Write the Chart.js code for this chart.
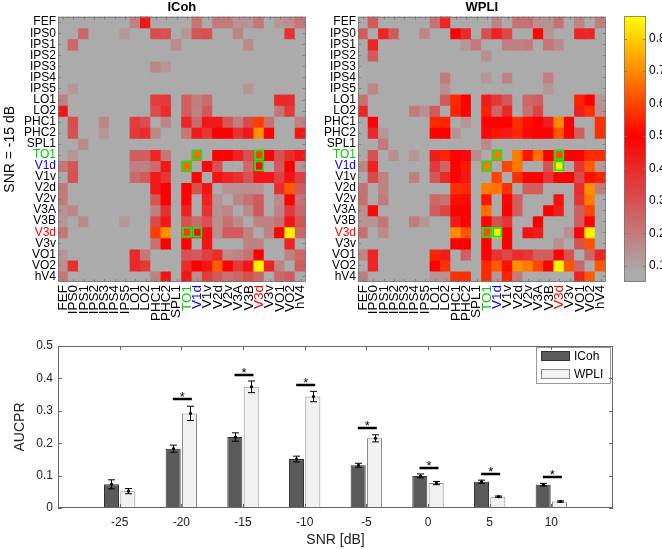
<!DOCTYPE html>
<html><head><meta charset="utf-8">
<script src="https://cdn.jsdelivr.net/npm/chart.js@4.4.1/dist/chart.umd.min.js"></script>
<style>
html,body{margin:0;padding:0;background:#fff;}
#wrap{position:relative;width:662px;height:549px;overflow:hidden;background:#fff;}
canvas{position:absolute;}
</style></head><body>
<div id="wrap">
<canvas id="icoh" width="320" height="330" style="left:0;top:0;width:320px;height:330px"></canvas>
<canvas id="wpli" width="320" height="330" style="left:300px;top:0;width:320px;height:330px"></canvas>
<canvas id="cbar" width="52" height="300" style="left:610px;top:0;width:52px;height:300px"></canvas>
<canvas id="bars" width="662" height="219" style="left:0;top:330px;width:662px;height:219px"></canvas>
</div>
<script>
const FONT = "'Liberation Sans', Arial, Helvetica, sans-serif";

// ---------- heatmap data ----------
const regions = ['FEF','IPS0','IPS1','IPS2','IPS3','IPS4','IPS5','LO1','LO2','PHC1','PHC2','SPL1','TO1','V1d','V1v','V2d','V2v','V3A','V3B','V3d','V3v','VO1','VO2','hV4'];
const regionLabelColors = { TO1: '#00cc00', V1d: '#0000ff', V3d: '#ff0000' };
const highlightPairs = [['TO1','V1d'],['TO1','V3d'],['V1d','TO1'],['V1d','V3d'],['V3d','TO1'],['V3d','V1d']];

const icohMatrix = [
[.07,.07,.07,.07,.07,.07, .07,.18,.45,.07,.07,.07, .07,.21,.07,.20,.20,.14, .13,.21,.07,.13,.15,.21],
[.07,.07,.25,.07,.07,.07, .13,.07,.07,.31,.30,.07, .13,.29,.30,.07,.07,.17, .07,.07,.07,.07,.38,.07],
[.07,.25,.07,.07,.07,.07, .07,.07,.07,.07,.07,.16, .07,.07,.07,.07,.07,.07, .16,.07,.07,.07,.07,.07],
[.07,.07,.07,.07,.07,.07, .07,.07,.07,.07,.07,.07, .07,.07,.07,.07,.07,.07, .07,.07,.07,.07,.07,.07],
[.07,.07,.07,.07,.07,.07, .07,.07,.07,.17,.13,.07, .07,.07,.07,.07,.07,.07, .07,.07,.07,.07,.07,.07],
[.07,.07,.07,.07,.07,.07, .07,.07,.07,.07,.07,.07, .07,.07,.07,.07,.07,.07, .07,.07,.07,.07,.07,.07],
[.07,.13,.07,.07,.07,.07, .07,.07,.07,.07,.07,.07, .07,.07,.07,.07,.07,.07, .13,.07,.07,.07,.07,.07],
[.18,.07,.07,.07,.07,.07, .07,.07,.07,.35,.36,.07, .27,.19,.24,.07,.07,.07, .07,.07,.07,.40,.40,.07],
[.45,.07,.07,.07,.07,.07, .07,.07,.07,.31,.39,.07, .27,.18,.28,.07,.07,.07, .07,.07,.07,.21,.36,.07],
[.07,.31,.07,.07,.17,.07, .07,.35,.31,.07,.17,.07, .41,.24,.44,.44,.29,.19, .32,.59,.22,.07,.07,.18],
[.07,.30,.07,.07,.13,.07, .07,.36,.39,.17,.07,.07, .21,.44,.37,.50,.50,.38, .44,.71,.50,.07,.07,.45],
[.07,.07,.16,.07,.07,.07, .07,.07,.07,.07,.07,.07, .07,.07,.07,.07,.07,.07, .07,.07,.07,.07,.07,.07],
[.07,.13,.07,.07,.07,.07, .07,.27,.27,.41,.21,.07, .07,.65,.07,.50,.49,.42, .30,.59,.49,.30,.39,.45],
[.21,.29,.07,.07,.07,.07, .07,.19,.18,.24,.44,.07, .65,.07,.48,.30,.07,.07, .24,.47,.07,.28,.50,.15],
[.07,.30,.07,.07,.07,.07, .07,.24,.28,.44,.37,.07, .07,.48,.07,.45,.42,.38, .30,.45,.45,.34,.45,.35],
[.20,.07,.07,.07,.07,.07, .07,.07,.07,.44,.50,.07, .50,.30,.45,.07,.14,.15, .15,.15,.07,.39,.63,.28],
[.20,.07,.07,.07,.07,.07, .07,.07,.07,.29,.50,.07, .49,.07,.42,.14,.07,.17, .22,.28,.07,.16,.50,.22],
[.14,.17,.07,.07,.07,.07, .07,.07,.07,.19,.38,.07, .42,.07,.38,.15,.17,.07, .16,.28,.07,.18,.36,.25],
[.13,.07,.16,.07,.07,.07, .13,.07,.07,.32,.44,.07, .30,.24,.30,.15,.22,.16, .07,.18,.18,.22,.45,.30],
[.21,.07,.07,.07,.07,.07, .07,.07,.07,.59,.71,.07, .59,.47,.45,.15,.28,.28, .18,.07,.18,.50,.85,.25],
[.07,.07,.07,.07,.07,.07, .07,.07,.07,.22,.50,.07, .49,.07,.45,.07,.07,.07, .18,.18,.07,.07,.42,.07],
[.13,.07,.07,.07,.07,.07, .07,.40,.21,.07,.07,.07, .30,.28,.34,.39,.16,.18, .22,.50,.07,.07,.18,.25],
[.15,.38,.07,.07,.07,.07, .07,.40,.36,.07,.07,.07, .39,.50,.45,.63,.50,.36, .45,.85,.42,.18,.07,.28],
[.21,.07,.07,.07,.07,.07, .07,.07,.07,.18,.45,.07, .45,.15,.35,.28,.22,.25, .30,.25,.07,.25,.28,.07]
];

const wpliMatrix = [
[.07,.27,.07,.07,.07,.07, .07,.22,.41,.07,.07,.07, .07,.17,.07,.22,.22,.15, .14,.22,.07,.17,.07,.19],
[.27,.07,.41,.28,.07,.07, .17,.07,.07,.49,.40,.07, .30,.42,.32,.07,.07,.48, .14,.07,.07,.41,.41,.07],
[.07,.41,.07,.07,.07,.07, .07,.07,.07,.07,.13,.20, .07,.07,.18,.18,.20,.07, .21,.16,.07,.07,.07,.07],
[.07,.28,.07,.07,.07,.07, .07,.07,.07,.07,.07,.07, .15,.07,.07,.07,.07,.07, .07,.07,.07,.07,.07,.07],
[.07,.07,.07,.07,.07,.07, .07,.07,.07,.07,.07,.07, .07,.07,.07,.07,.07,.07, .07,.07,.07,.07,.07,.07],
[.07,.07,.07,.07,.07,.07, .07,.07,.20,.07,.07,.07, .13,.07,.18,.07,.07,.07, .19,.07,.07,.07,.07,.07],
[.07,.17,.07,.07,.07,.07, .07,.07,.15,.07,.07,.07, .07,.07,.07,.07,.07,.07, .13,.07,.07,.07,.07,.07],
[.22,.07,.07,.07,.07,.07, .07,.07,.28,.56,.50,.07, .43,.36,.29,.07,.25,.27, .07,.07,.07,.55,.50,.14],
[.41,.07,.07,.07,.07,.20, .15,.28,.07,.55,.50,.07, .55,.25,.40,.07,.22,.33, .07,.07,.07,.43,.57,.15],
[.07,.49,.07,.07,.07,.07, .07,.56,.55,.07,.14,.07, .50,.50,.50,.57,.52,.50, .43,.70,.50,.07,.07,.57],
[.07,.40,.13,.07,.07,.07, .07,.50,.50,.14,.07,.07, .48,.53,.44,.56,.48,.50, .49,.62,.50,.27,.07,.57],
[.07,.07,.20,.07,.07,.07, .07,.07,.07,.07,.07,.07, .16,.07,.07,.07,.07,.07, .07,.07,.07,.07,.07,.07],
[.07,.30,.07,.15,.07,.13, .07,.43,.55,.50,.48,.16, .07,.67,.07,.68,.53,.66, .50,.61,.50,.50,.56,.56],
[.17,.42,.07,.07,.07,.07, .07,.36,.25,.50,.53,.07, .67,.07,.60,.67,.07,.07, .30,.85,.07,.37,.63,.13],
[.07,.32,.18,.07,.07,.18, .07,.29,.40,.50,.44,.07, .07,.60,.07,.57,.49,.50, .37,.50,.50,.32,.52,.55],
[.22,.07,.18,.07,.07,.07, .07,.07,.07,.57,.56,.07, .68,.67,.57,.07,.27,.27, .07,.07,.07,.39,.71,.20],
[.22,.07,.20,.07,.07,.07, .07,.25,.22,.52,.48,.07, .53,.07,.49,.27,.07,.07, .07,.46,.07,.37,.68,.07],
[.15,.48,.07,.07,.07,.07, .07,.27,.33,.50,.50,.07, .66,.07,.50,.27,.07,.07, .50,.43,.07,.27,.60,.07],
[.14,.14,.21,.07,.07,.19, .13,.07,.07,.43,.49,.07, .50,.30,.37,.07,.07,.50, .07,.07,.07,.27,.50,.07],
[.22,.07,.16,.07,.07,.07, .07,.07,.07,.70,.62,.07, .61,.85,.50,.07,.46,.43, .07,.07,.15,.49,.85,.07],
[.07,.07,.07,.07,.07,.07, .07,.07,.07,.50,.50,.07, .50,.07,.50,.07,.07,.07, .07,.15,.07,.30,.62,.07],
[.17,.41,.07,.07,.07,.07, .07,.55,.43,.07,.27,.07, .50,.37,.32,.39,.37,.27, .27,.49,.30,.07,.25,.42],
[.07,.41,.07,.07,.07,.07, .07,.50,.57,.07,.07,.07, .56,.63,.52,.71,.68,.60, .50,.85,.62,.25,.07,.63],
[.19,.07,.07,.07,.07,.07, .07,.14,.15,.57,.57,.07, .56,.13,.55,.20,.07,.07, .07,.07,.07,.42,.63,.07]
];

const colorbarMin = 0.05;
const colorbarMax = 0.87;
const colorbarTicks = [0.1, 0.2, 0.3, 0.4, 0.5, 0.6, 0.7, 0.8];

// ---------- bar chart data ----------
const snrLevels = [-25, -20, -15, -10, -5, 0, 5, 10];
const icohAucpr = [0.073, 0.183, 0.219, 0.151, 0.132, 0.099, 0.081, 0.072];
const wpliAucpr = [0.052, 0.292, 0.374, 0.344, 0.215, 0.077, 0.035, 0.020];
const icohErr   = [0.014, 0.011, 0.013, 0.009, 0.006, 0.006, 0.005, 0.004];
const wpliErr   = [0.008, 0.022, 0.018, 0.016, 0.011, 0.005, 0.002, 0.002];
const sigSnr    = [-20, -15, -10, -5, 0, 5, 10];
const sigLevel  = [0.335, 0.412, 0.379, 0.247, 0.125, 0.106, 0.097];
const aucprTicks = [0, 0.1, 0.2, 0.3, 0.4, 0.5];

// ---------- colormap ----------
const GRAY = [171,171,171], RED = [255,0,0], YELLOW = [255,255,0];
const GRAY_END = 0.08, RED_AT = 0.5;
function mix(a, b, t) { return a.map((x, i) => Math.round(x + (b[i] - x) * t)); }
function valueColor(v) {
  let c;
  if (v <= GRAY_END) c = GRAY;
  else if (v <= RED_AT) c = mix(GRAY, RED, (v - GRAY_END) / (RED_AT - GRAY_END));
  else c = mix(RED, YELLOW, Math.min(1, (v - RED_AT) / (colorbarMax - RED_AT)));
  return 'rgb(' + c.join(',') + ')';
}

// ---------- frame plugin (box + inner ticks) ----------
const framePlugin = {
  id: 'frame',
  afterDraw(chart, args, o) {
    const { ctx, chartArea: a } = chart;
    ctx.save();
    ctx.strokeStyle = o.color || '#666';
    ctx.lineWidth = o.lineWidth || 1;
    const L = o.tickLength || 3;
    ctx.beginPath();
    (o.scales || []).forEach(id => {
      const s = chart.scales[id];
      s.ticks.forEach((t, i) => {
        const p = Math.round(s.getPixelForTick(i)) + 0.5;
        if (s.isHorizontal()) {
          ctx.moveTo(p, a.bottom); ctx.lineTo(p, a.bottom - L);
          ctx.moveTo(p, a.top); ctx.lineTo(p, a.top + L);
        } else {
          ctx.moveTo(a.left, p); ctx.lineTo(a.left + L, p);
          ctx.moveTo(a.right, p); ctx.lineTo(a.right - L, p);
        }
      });
    });
    ctx.stroke();
    ctx.strokeRect(Math.round(a.left) + 0.5, Math.round(a.top) + 0.5, Math.round(a.width) - 1, Math.round(a.height) - 1);
    ctx.restore();
  }
};

function labelColor(name) { return regionLabelColors[name] || '#000'; }

function heatmap(id, matrix, title, yTitle) {
  const cellSets = regions.map((rowName, r) => ({
    label: rowName,
    data: regions.map(() => [r, r + 1]),
    backgroundColor: matrix[r].map(valueColor),
    borderWidth: 0,
    inflateAmount: 0.6,
    grouped: false,
    barPercentage: 1,
    categoryPercentage: 1,
    order: 1
  }));
  const boxSets = highlightPairs.map(([rowName, colName]) => {
    const r = regions.indexOf(rowName), c = regions.indexOf(colName);
    return {
      label: rowName + '-' + colName,
      data: regions.map((_, ci) => (ci === c ? [r, r + 1] : null)),
      backgroundColor: 'rgba(0,0,0,0)',
      borderColor: '#22dd22',
      borderWidth: 2,
      borderSkipped: false,
      inflateAmount: 0,
      grouped: false,
      barPercentage: 1,
      categoryPercentage: 1,
      order: 0
    };
  });
  return new Chart(document.getElementById(id), {
    type: 'bar',
    data: { labels: regions, datasets: cellSets.concat(boxSets) },
    options: {
      responsive: false,
      animation: false,
      layout: { padding: { top: 0, right: 11, bottom: 0, left: 0 } },
      plugins: {
        legend: { display: false },
        tooltip: { enabled: false },
        title: { display: true, fullSize: false, text: title, color: '#000',
                 font: { family: FONT, size: 13, weight: 'bold' }, padding: { top: 0, bottom: 1 } },
        frame: { color: '#777', lineWidth: 0.8, tickLength: 3, scales: ['x', 'y'] }
      },
      scales: {
        x: {
          type: 'category', offset: true,
          grid: { display: false, drawTicks: false }, border: { display: false },
          ticks: { autoSkip: false, minRotation: 90, maxRotation: 90, padding: 3,
                   font: { family: FONT, size: 13.5 },
                   color: ctx => labelColor(regions[ctx.index]) },
          afterFit: s => { s.height = 48; }
        },
        y: {
          type: 'linear', min: 0, max: 24, reverse: true,
          grid: { display: false, drawTicks: false }, border: { display: false },
          afterBuildTicks: s => { s.ticks = regions.map((_, i) => ({ value: i + 0.5 })); },
          ticks: { autoSkip: false, padding: 2, font: { family: FONT, size: 12 },
                   callback: v => regions[Math.floor(v)],
                   color: ctx => labelColor(regions[ctx.index]) },
          title: { display: !!yTitle, text: yTitle || '', color: '#000',
                   font: { family: FONT, size: 14 }, padding: { top: 2, bottom: 0 } },
          afterFit: s => { s.width = 58; }
        }
      }
    },
    plugins: [framePlugin]
  });
}

heatmap('icoh', icohMatrix, 'ICoh', 'SNR = -15 dB');
heatmap('wpli', wpliMatrix, 'WPLI', '');

// ---------- colorbar ----------
new Chart(document.getElementById('cbar'), {
  type: 'bar',
  data: {
    labels: [''],
    datasets: [{
      data: [[colorbarMin, colorbarMax]],
      backgroundColor: c => {
        const chart = c.chart;
        if (!chart.chartArea) return valueColor(colorbarMin);
        const y = chart.scales.y;
        const g = chart.ctx.createLinearGradient(0, y.getPixelForValue(colorbarMin), 0, y.getPixelForValue(colorbarMax));
        [colorbarMin, GRAY_END, RED_AT, colorbarMax].forEach(v => {
          g.addColorStop((v - colorbarMin) / (colorbarMax - colorbarMin), valueColor(v));
        });
        return g;
      },
      borderWidth: 0,
      barPercentage: 1,
      categoryPercentage: 1
    }]
  },
  options: {
    responsive: false,
    animation: false,
    layout: { padding: { left: 14, top: 16, bottom: 18, right: 0 } },
    plugins: { legend: { display: false }, tooltip: { enabled: false },
               frame: { color: '#777', lineWidth: 0.8, tickLength: 3, scales: ['y'] } },
    scales: {
      x: { display: false },
      y: {
        position: 'right', min: colorbarMin, max: colorbarMax,
        grid: { display: false, drawTicks: false }, border: { display: false },
        afterBuildTicks: s => { s.ticks = colorbarTicks.map(v => ({ value: v })); },
        ticks: { autoSkip: false, padding: 3, color: '#000', font: { family: FONT, size: 12 },
                 callback: v => v.toFixed(1) },
        afterFit: s => { s.width = 16; }
      }
    }
  },
  plugins: [framePlugin]
});

// ---------- bar chart extras (error bars, significance, legend) ----------
const barExtras = {
  id: 'barExtras',
  afterDatasetsDraw(chart, args, o) {
    const { ctx } = chart;
    const x = chart.scales.x, y = chart.scales.y;
    ctx.save();
    ctx.strokeStyle = '#000';
    ctx.fillStyle = '#000';
    ctx.lineWidth = 1;
    o.errors.forEach((errs, d) => {
      const meta = chart.getDatasetMeta(d);
      meta.data.forEach((bar, i) => {
        const v = chart.data.datasets[d].data[i].y;
        const e = errs[i];
        const yt = y.getPixelForValue(v + e), yb = y.getPixelForValue(v - e);
        const cx = Math.round(bar.x) + 0.5;
        ctx.beginPath();
        ctx.moveTo(cx, yt); ctx.lineTo(cx, yb);
        ctx.moveTo(cx - 3.5, yt); ctx.lineTo(cx + 3.5, yt);
        ctx.moveTo(cx - 3.5, yb); ctx.lineTo(cx + 3.5, yb);
        ctx.stroke();
        ctx.beginPath();
        ctx.arc(cx, y.getPixelForValue(v), 1.6, 0, Math.PI * 2);
        ctx.fill();
      });
    });
    ctx.lineWidth = 2.5;
    ctx.textAlign = 'center';
    ctx.textBaseline = 'alphabetic';
    ctx.font = '13px ' + FONT;
    o.sigX.forEach((sx, i) => {
      const px = x.getPixelForValue(sx) + 1;
      const py = Math.round(y.getPixelForValue(o.sigY[i]));
      ctx.beginPath();
      ctx.moveTo(px - 9.5, py); ctx.lineTo(px + 9.5, py);
      ctx.stroke();
      ctx.fillText('*', px, py + 2);
    });
    // legend
    const a = chart.chartArea;
    const bx = Math.round(a.right) - 77, by = Math.round(a.top) + 1, bw = 74, bh = 36;
    ctx.fillStyle = '#fff';
    ctx.fillRect(bx, by, bw, bh);
    ctx.strokeStyle = '#999';
    ctx.lineWidth = 1;
    ctx.strokeRect(bx + 0.5, by + 0.5, bw, bh);
    ctx.font = '12px ' + FONT;
    ctx.textAlign = 'left';
    ctx.textBaseline = 'middle';
    chart.data.datasets.forEach((ds, i) => {
      const cy = by + 9 + i * 18;
      ctx.fillStyle = ds.backgroundColor;
      ctx.fillRect(bx + 5, cy - 5, 29, 10);
      ctx.strokeStyle = ds.borderColor;
      ctx.strokeRect(bx + 5.5, cy - 4.5, 28, 9);
      ctx.fillStyle = '#000';
      ctx.fillText(ds.label, bx + 38, cy + 0.5);
    });
    ctx.restore();
  }
};

new Chart(document.getElementById('bars'), {
  type: 'bar',
  data: {
    datasets: [
      { label: 'ICoh', data: snrLevels.map((s, i) => ({ x: s, y: icohAucpr[i] })),
        backgroundColor: '#5a5a5a', borderColor: '#333333', borderWidth: 1,
        categoryPercentage: 0.53, barPercentage: 0.92 },
      { label: 'WPLI', data: snrLevels.map((s, i) => ({ x: s, y: wpliAucpr[i] })),
        backgroundColor: '#f1f1f1', borderColor: '#8a8a8a', borderWidth: 1,
        categoryPercentage: 0.53, barPercentage: 0.92 }
    ]
  },
  options: {
    responsive: false,
    animation: false,
    layout: { padding: { top: 16, right: 49, bottom: 0, left: 0 } },
    plugins: {
      legend: { display: false },
      tooltip: { enabled: false },
      frame: { color: '#666', lineWidth: 1, tickLength: 4, scales: ['x', 'y'] },
      barExtras: { errors: [icohErr, wpliErr], sigX: sigSnr, sigY: sigLevel }
    },
    scales: {
      x: {
        type: 'linear', min: -30, max: 15, offset: false,
        grid: { display: false, drawTicks: false }, border: { display: false },
        afterBuildTicks: s => { s.ticks = snrLevels.map(v => ({ value: v })); },
        ticks: { autoSkip: false, padding: 7, color: '#222', font: { family: FONT, size: 12 },
                 callback: v => String(v) },
        title: { display: true, text: 'SNR [dB]', color: '#222', font: { family: FONT, size: 14 },
                 padding: { top: 0, bottom: 0 } },
        afterFit: s => { s.height = 41; }
      },
      y: {
        min: 0, max: 0.5,
        grid: { display: false, drawTicks: false }, border: { display: false },
        afterBuildTicks: s => { s.ticks = aucprTicks.map(v => ({ value: v })); },
        ticks: { autoSkip: false, padding: 5, color: '#222', font: { family: FONT, size: 12 },
                 callback: v => (v === 0 ? '0' : v.toFixed(1)) },
        title: { display: true, text: 'AUCPR', color: '#222', font: { family: FONT, size: 14 },
                 padding: { top: 12, bottom: 0 } },
        afterFit: s => { s.width = 58; }
      }
    }
  },
  plugins: [framePlugin, barExtras]
});
</script>
</body></html>
